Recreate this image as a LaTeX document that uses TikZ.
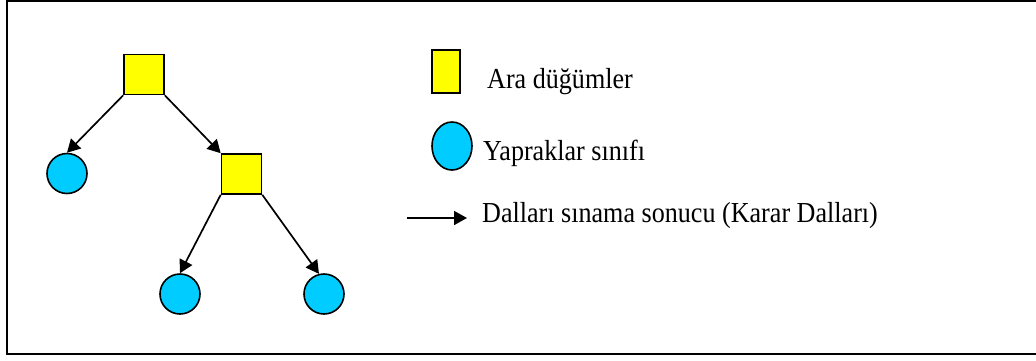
\documentclass[tikz,border=0pt]{standalone}
\usepackage{fontspec}
\setmainfont{Liberation Serif}
\usetikzlibrary{arrows.meta,shapes.geometric}
\definecolor{leafblue}{RGB}{0,204,255}
\definecolor{nodeyellow}{RGB}{255,255,0}
\tikzset{
  inner/.style={draw=black, line width=1.6pt, fill=nodeyellow, minimum width=40pt, minimum height=40pt, inner sep=0pt},
  leaf/.style={draw=black, line width=1.6pt, fill=leafblue, circle, minimum size=40pt, inner sep=0pt},
  branch/.style={line width=1.7pt, -{Triangle[length=13pt, width=14pt]}},
  legtext/.style={anchor=base west, inner sep=0pt, xscale=0.9, font=\fontsize{29pt}{34pt}\selectfont}
}
\begin{document}
\begin{tikzpicture}[x=1pt, y=-1pt]
\useasboundingbox (0,0) rectangle (1036,360);
% outer frame
\draw[line width=2.2pt] (7,1) rectangle (1040,354);

% tree
\node[inner] (r) at (144,74.5) {};
\node[inner] (m) at (241.5,174) {};
\node[leaf] (l1) at (67,173.5) {};
\node[leaf] (l2) at (180,294) {};
\node[leaf] (l3) at (324,294) {};

\draw[branch] (r.south west) -- (l1.north);
\draw[branch] (r.south east) -- (m.north west);
\draw[branch] (m.south west) -- (l2.north);
\draw[branch] (m.south east) -- (l3.104);

% legend
\node[draw=black, line width=1.6pt, fill=nodeyellow, minimum width=28pt, minimum height=43pt, inner sep=0pt] (ks) at (446,71.5) {};
\node[legtext] (ts) at (487,88) {Ara düğümler};
\node[draw=black, line width=1.6pt, fill=leafblue, ellipse, minimum width=40pt, minimum height=48pt, inner sep=0pt] (kc) at (452,146) {};
\node[legtext] (tc) at (483,160) {Yapraklar sınıfı};
\coordinate (a0) at (407,218);
\coordinate (a1) at (467,218);
\draw[branch] (a0) -- (a1);
\node[legtext] (ta) at (482,222) {Dalları sınama sonucu (Karar Dalları)};
\end{tikzpicture}
\end{document}
